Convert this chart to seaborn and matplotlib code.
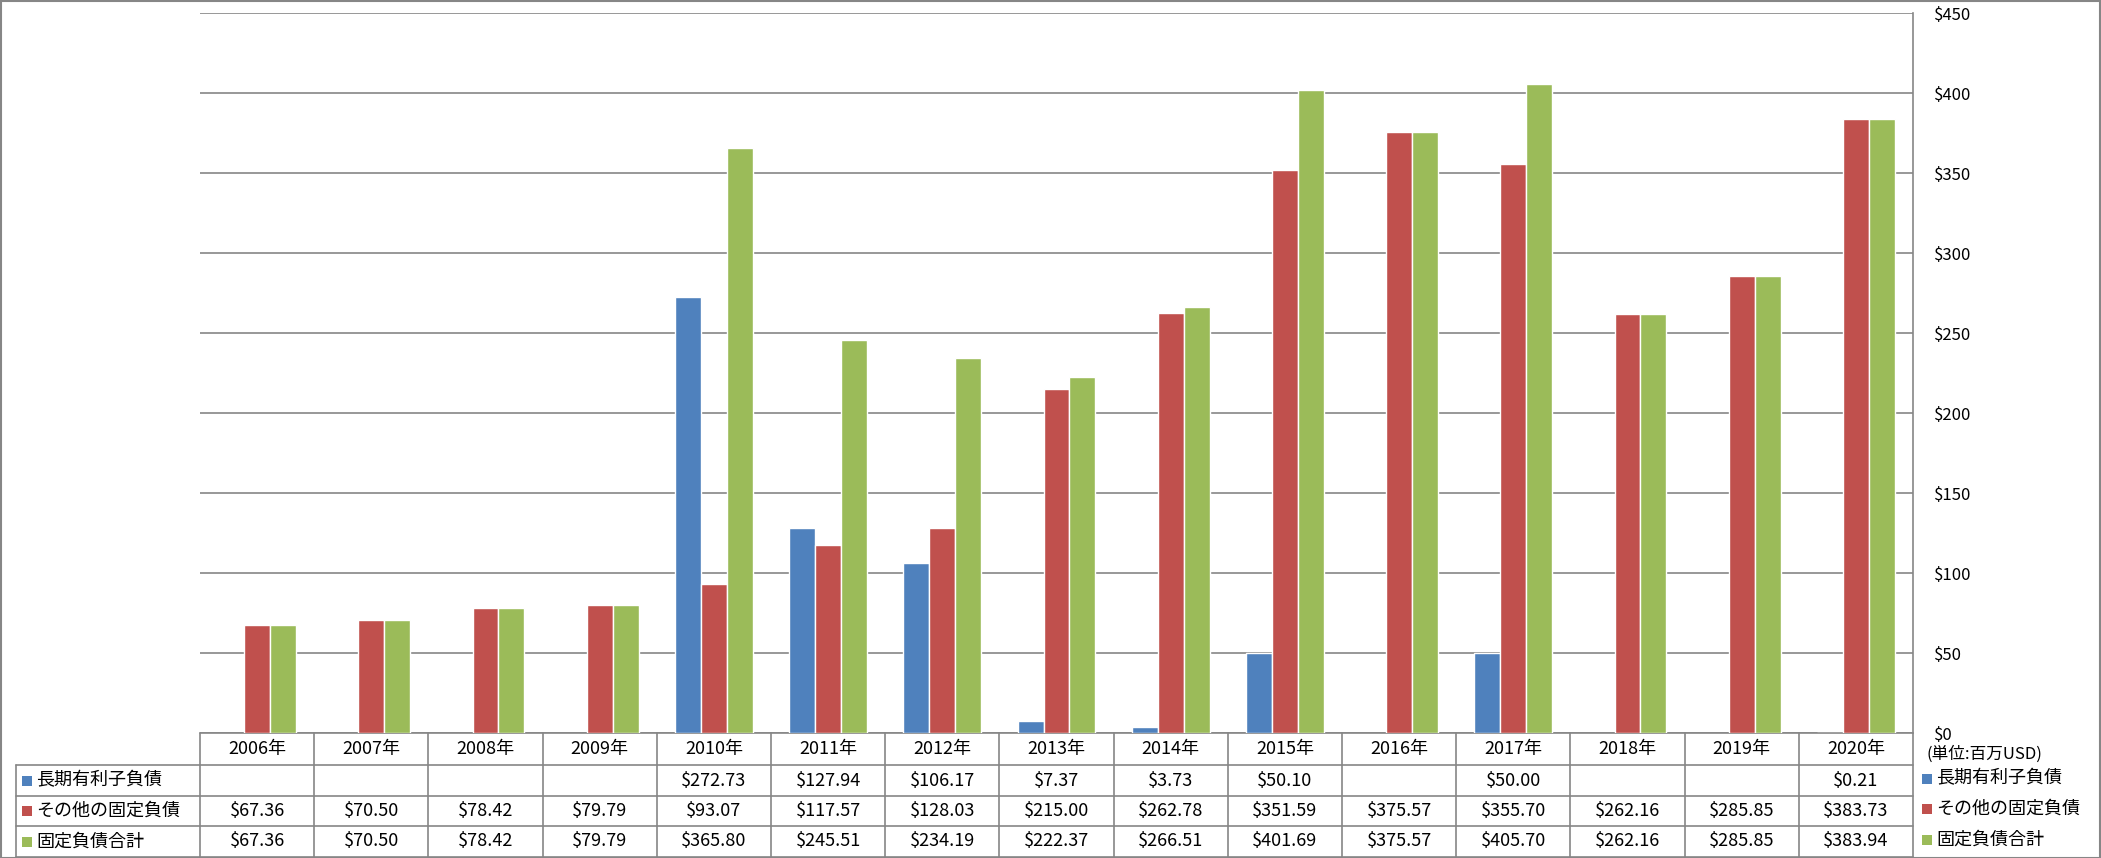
import numpy as np
import pandas as pd
import matplotlib
matplotlib.use("Agg")
import matplotlib.pyplot as plt
import matplotlib.transforms as mtransforms
from matplotlib.patches import Rectangle
from matplotlib.lines import Line2D
import seaborn as sns

years = ["2006年", "2007年", "2008年", "2009年", "2010年", "2011年", "2012年", "2013年",
         "2014年", "2015年", "2016年", "2017年", "2018年", "2019年", "2020年"]
series_names = ["長期有利子負債", "その他の固定負債", "固定負債合計"]
long_term_debt = [np.nan, np.nan, np.nan, np.nan, 272.73, 127.94, 106.17, 7.37, 3.73,
                  50.10, np.nan, 50.00, np.nan, np.nan, 0.21]
other_fixed = [67.36, 70.50, 78.42, 79.79, 93.07, 117.57, 128.03, 215.00, 262.78,
               351.59, 375.57, 355.70, 262.16, 285.85, 383.73]
total_fixed = [67.36, 70.50, 78.42, 79.79, 365.80, 245.51, 234.19, 222.37, 266.51,
               401.69, 375.57, 405.70, 262.16, 285.85, 383.94]
y_ticks = [0, 50, 100, 150, 200, 250, 300, 350, 400, 450]
unit_label = "(単位:百万USD)"
colors = ["#4F81BD", "#C0504D", "#9BBB59"]

series_values = [long_term_debt, other_fixed, total_fixed]
df = pd.DataFrame({
    "year": years * 3,
    "series": sum([[s] * len(years) for s in series_names], []),
    "value": sum(series_values, []),
})

sns.set_theme(style="white")
plt.rcParams["font.family"] = ["Noto Sans CJK JP", "DejaVu Sans"]

W, H = 2101, 858
fig = plt.figure(figsize=(W / 100, H / 100), dpi=100)
ax_l, ax_r, ax_t, ax_b = 200, 1913, 13, 733
ax = fig.add_axes([ax_l / W, 1 - ax_b / H, (ax_r - ax_l) / W, (ax_b - ax_t) / H])

sns.barplot(data=df, x="year", y="value", hue="series", order=years,
            hue_order=series_names, palette=colors, width=0.68, saturation=1,
            errorbar=None, legend=False, ax=ax, zorder=3)

ax.set_xlim(-0.5, len(years) - 0.5)
ax.set_ylim(0, 450)
ax.set_yticks(y_ticks)
ax.set_yticklabels([f"${v}" for v in y_ticks], fontsize=12, color="#000000")
ax.yaxis.tick_right()
ax.tick_params(axis="y", length=0, pad=15)
ax.set_xticks([])
ax.set_xlabel("")
ax.set_ylabel("")
ax.yaxis.grid(True, color="#868686", lw=1.2, zorder=0)
ax.set_axisbelow(True)
for side in ["left", "top", "bottom"]:
    ax.spines[side].set_visible(False)
ax.spines["right"].set_color("#868686")
ax.spines["right"].set_linewidth(1.2)

# data table below the plot (x in data units, y in pixel rows)
axes_h = ax_b - ax_t
def yfrac(py):
    return (ax_b - py) / axes_h

trans = mtransforms.blended_transform_factory(ax.transData, ax.transAxes)
px_per_cat = (ax_r - ax_l) / len(years)
x_left_tab = -0.5 - (ax_l - 16) / px_per_cat
row_lines = [733, 765, 796, 826, 857]
lc = "#868686"
for i, py in enumerate(row_lines):
    x0 = -0.5 if i == 0 else x_left_tab
    ax.add_line(Line2D([x0, len(years) - 0.5], [yfrac(py), yfrac(py)], transform=trans,
                       color=lc, lw=1.2, clip_on=False))
for k in range(len(years) + 1):
    ax.add_line(Line2D([k - 0.5, k - 0.5], [yfrac(733), yfrac(857)], transform=trans,
                       color=lc, lw=1.2, clip_on=False))
ax.add_line(Line2D([x_left_tab, x_left_tab], [yfrac(765), yfrac(857)], transform=trans,
                   color=lc, lw=1.2, clip_on=False))

fs = 13
for i, yr in enumerate(years):
    ax.text(i, yfrac(749), yr, transform=trans, ha="center", va="center", fontsize=fs,
            color="#000000")
row_centers = [780.5, 811, 841.5]
for r, (name, vals, col) in enumerate(zip(series_names, series_values, colors)):
    yc = yfrac(row_centers[r])
    for i, v in enumerate(vals):
        if not np.isnan(v):
            ax.text(i, yc, f"${v:.2f}", transform=trans, ha="center", va="center",
                    fontsize=fs, color="#000000")
    fig.patches.append(Rectangle((22 / W, 1 - (row_centers[r] + 5) / H), 10 / W, 10 / H,
                                 transform=fig.transFigure, facecolor=col, edgecolor="none"))
    fig.text(36 / W, 1 - row_centers[r] / H, name, ha="left", va="center", fontsize=fs,
             color="#000000")
    fig.patches.append(Rectangle((1922 / W, 1 - (row_centers[r] - 2 + 5) / H), 10 / W, 10 / H,
                                 transform=fig.transFigure, facecolor=col, edgecolor="none"))
    fig.text(1936 / W, 1 - (row_centers[r] - 2) / H, name, ha="left", va="center",
             fontsize=fs, color="#000000")

fig.text(1927 / W, 1 - 754 / H, unit_label, ha="left", va="center", fontsize=12,
         color="#000000")

fig.patches.append(Rectangle((0.5 / W, 0.5 / H), (W - 1.5) / W, (H - 1.5) / H,
                             transform=fig.transFigure, facecolor="none",
                             edgecolor="#868686", lw=1.5))

fig.savefig("out.png", dpi=100)
